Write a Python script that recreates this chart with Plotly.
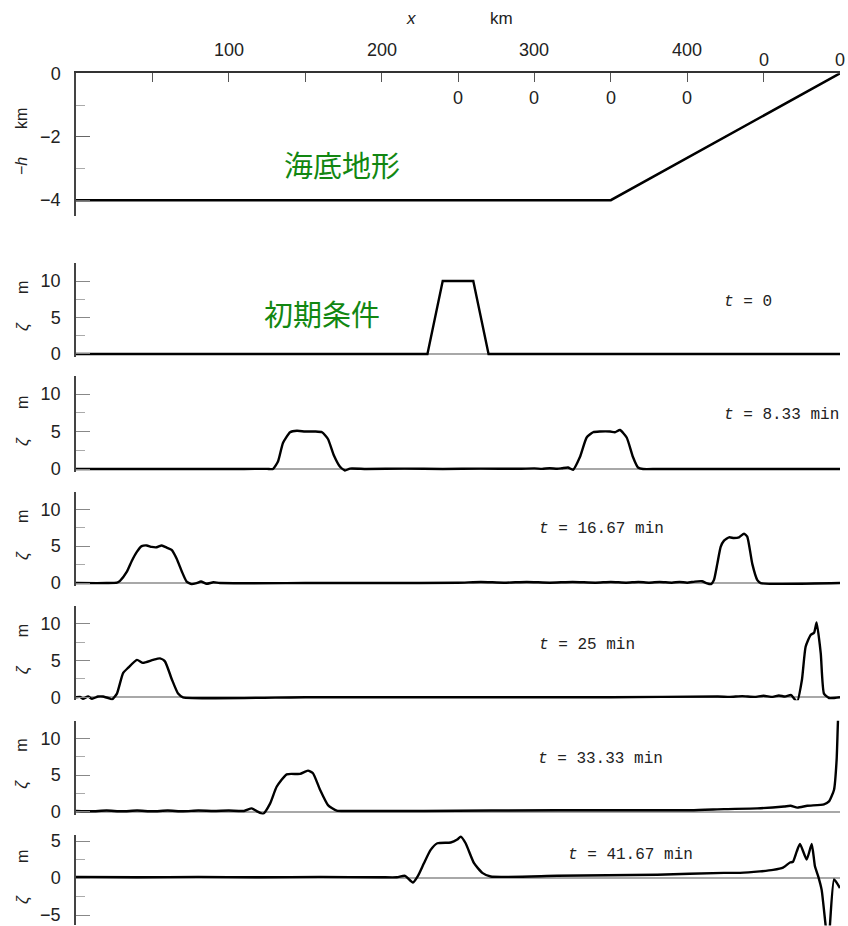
import plotly.graph_objects as go

# ---------------- data ----------------
# sea-floor profile: depth -h (km) along x (km)
bathy_x = [0, 350, 500]
bathy_h = [-4, -4, 0]

# surface elevation zeta (m) along x (km) at each time
t_labels = ["<i>t</i> = 0", "<i>t</i> = 8.33 min", "<i>t</i> = 16.67 min",
            "<i>t</i> = 25 min", "<i>t</i> = 33.33 min", "<i>t</i> = 41.67 min"]

x_t0 = [0, 230, 240, 260, 270, 500]
z_t0 = [0, 0, 10, 10, 0, 0]

x_t1 = [0, 60, 110, 125, 128.9, 132.2, 135.5, 140.1, 144.6, 149.9, 156.4, 161.0,
        164.9, 168.8, 172.8, 176.0, 179.3, 190, 215, 240, 265, 290, 300, 305,
        310, 315, 318, 322.0, 325.3, 329.8, 334.2, 338.4, 342.9, 349.5, 352.7,
        356.0, 360.4, 364.5, 367.8, 371.1, 380, 420, 500]
z_t1 = [0, 0, 0, 0.02, 0, 1.0, 3.5, 4.9, 5.1, 5.0, 5.0, 4.9,
        4.0, 1.8, 0.3, -0.2, 0.05, 0, 0.05, 0, 0.05, 0.03, 0.08, 0.02,
        0.1, 0.03, 0.1, 0.2, -0.1, 1.6, 4.2, 4.9, 5.0, 5.0, 4.9,
        5.2, 4.2, 1.6, 0.2, 0, 0, 0, 0]

x_t2 = [0, 20, 26.8, 28.8, 33.2, 36.5, 39.7, 43.0, 46.3, 49.5, 52.8, 56.1, 59.4,
        62.6, 65.9, 69.2, 72.4, 75.7, 79.0, 81.8, 85.5, 89.9, 94.2, 150, 200,
        250, 265, 280, 295, 310, 325, 340, 350, 360, 368, 375, 382, 390, 395,
        400, 405, 409.7, 412.5, 415.6, 417.5, 419.7, 421.9, 424.1, 427.4,
        430.6, 433.9, 437.2, 439.3, 442.6, 445.9, 448.1, 500]
z_t2 = [0, 0, 0.05, 0.3, 1.5, 3.0, 4.2, 5.0, 5.1, 4.9, 4.85, 5.1, 4.8,
        4.5, 3.3, 1.6, 0.2, -0.15, 0, 0.2, -0.1, 0.1, 0, 0, 0,
        0.05, 0.15, 0.05, 0.15, 0.05, 0.15, 0.05, 0.15, 0.05, 0.15, 0.05, 0.15,
        0.05, 0.15, 0.05, 0.2, 0.25, 0, -0.15, 0.4, 2.6, 4.9, 5.75, 6.2,
        6.1, 6.2, 6.7, 6.3, 2.6, 0.4, 0, 0]

x_t3 = [0, 2.6, 4.6, 7.9, 10.5, 14.4, 17.7, 22.3, 23.6, 26.8, 30.8, 34.0, 39.9,
        43.8, 50.4, 55.0, 58.2, 62.8, 66.8, 70.0, 150, 250, 350, 420, 428, 436,
        444, 450, 456, 460, 464, 468, 471.9, 475.1, 477.5, 480.8, 483.0,
        484.7, 487.4, 489.5, 492.8, 500]
z_t3 = [0, 0.05, -0.2, 0.1, -0.2, 0.1, 0.1, -0.2, -0.3, 0.5, 3.3, 4.0, 5.1,
        4.7, 5.1, 5.3, 4.9, 2.4, 0.5, 0, 0, 0, 0, 0.1, 0.05, 0.15,
        0.05, 0.2, 0.05, 0.25, 0.1, 0.3, -0.6, 2.4, 6.9, 8.5, 8.8,
        10.2, 6.0, 0.5, -0.1, 0]

x_t4 = [0, 10, 20, 30, 40, 50, 60, 70, 80, 90, 100, 110, 115, 118, 122.4, 127,
        131.3, 137.9, 146.6, 151.8, 155.1, 159.7, 164.9, 170.6, 177.2, 227.7,
        315, 402.3, 424.1, 445.9, 463.4, 467.7, 472.1, 478.6, 489.5, 492.8,
        496.1, 497.8, 498.7, 499.2]
z_t4 = [0.1, 0.05, 0.15, 0.05, 0.15, 0.05, 0.15, 0.05, 0.15, 0.1, 0.15, 0.1, 0.45,
        0.1, -0.3, 1.1, 3.4, 5.1, 5.15, 5.6, 5.25, 3.0, 0.9, 0.15, 0.1, 0.1,
        0.2, 0.2, 0.35, 0.45, 0.7, 0.8, 0.55, 0.8, 1.0, 1.4,
        3.0, 7.1, 12.5, 14.0]

x_t5 = [0, 40, 80, 120, 160, 200, 210, 215.3, 220.5, 223.8, 227.7, 232.1, 236.5,
        245.2, 249.5, 251.8, 255.0, 260.5, 265.9, 271.4, 315, 380.4, 424.1,
        434.6, 447.6, 456.2, 462.7, 467.3, 469.2, 471.7, 473.8, 478.2, 481.5,
        483.6, 485.8, 488.0, 492.3, 496.1, 500]
z_t5 = [0.15, 0.1, 0.15, 0.1, 0.15, 0.1, 0.1, 0.3, -0.6, 0.3, 2.0, 3.8, 4.7,
        4.8, 5.2, 5.6, 4.7, 2.0, 0.7, 0.2, 0.3, 0.45, 0.7,
        0.7, 0.9, 1.1, 1.4, 2.1, 2.2, 3.6, 4.6, 2.5, 4.6,
        1.6, 0.2, -1.6, -9.0, -0.2, -1.35]

zeta_x = [x_t0, x_t1, x_t2, x_t3, x_t4, x_t5]
zeta_z = [z_t0, z_t1, z_t2, z_t3, z_t4, z_t5]

# axis tick values / labels
x_ticks = list(range(0, 501, 50))
top_labels_x = [100, 200, 300, 400]
top_labels_text = ["100", "200", "300", "400"]
top_low_x = [450, 500]
inner_zero_x = [250, 300, 350, 400]
depth_ticks = [0, -2, -4]
depth_ticktext = ["0", "\u22122", "\u22124"]
depth_minor = [-1, -3]
zeta_ticks = [0, 5, 10]
zeta_minor = [2.5, 7.5]
zeta_ticks_last = [-5, 0, 5]
zeta_ticktext_last = ["\u22125", "0", "5"]
zeta_minor_last = [-2.5, 2.5]

# ---------------- layout geometry (pixels) ----------------
W, H = 848, 926
X0, X1 = 76, 840


def px(x):
    return x / W


def py(y):
    return 1 - y / H


# (top px, bottom px, y range) for each zeta panel
zeta_panels = [
    (262.8, 356.9, [-0.4, 12.5]),
    (376.0, 472.0, [-0.4, 12.4]),
    (491.6, 586.0, [-0.4, 12.4]),
    (606.4, 700.2, [-0.4, 12.4]),
    (720.8, 814.6, [-0.4, 12.4]),
    (835.1, 925.4, [-6.4, 5.8]),
]
t_label_pos = [(722, 302), (722, 415), (537, 529), (537, 645), (536, 759), (566, 855)]

tick_font = dict(family="Liberation Sans Narrow, Liberation Sans, Arial", size=18, color="#222")
axis_line = "#444"

fig = go.Figure()

# sea-floor panel
fig.add_trace(go.Scatter(x=bathy_x, y=bathy_h, mode="lines",
                         line=dict(color="black", width=2.5),
                         xaxis="x", yaxis="y", showlegend=False, hoverinfo="skip"))

layout = dict(
    width=W, height=H,
    margin=dict(l=0, r=0, t=0, b=0, autoexpand=False),
    paper_bgcolor="white", plot_bgcolor="white",
    showlegend=False,
    xaxis=dict(domain=[px(X0), px(X1)], range=[0, 500], anchor="y", side="top",
               showline=True, linecolor="#333", linewidth=1.5,
               ticks="inside", tickvals=x_ticks, ticklen=9, tickcolor="#555",
               tickwidth=1.2, showticklabels=False, showgrid=False, zeroline=False),
    yaxis=dict(domain=[py(216), py(73.3)], range=[-4.5, 0], anchor="x",
               showline=True, linecolor=axis_line, linewidth=1.5,
               ticks="inside", tickvals=depth_ticks, ticktext=depth_ticktext,
               ticklen=14, tickcolor="#666", tickwidth=1.3, tickfont=tick_font,
               ticklabelstandoff=10,
               minor=dict(ticks="inside", tickvals=depth_minor, ticklen=9,
                          tickcolor="#aaa", tickwidth=1.3),
               showgrid=False, zeroline=False),
)

for i, (top, bot, yr) in enumerate(zeta_panels):
    n = i + 2
    # the initial trapezoid keeps straight segments, the computed profiles are smooth
    line = dict(color="black", width=2.4)
    if i > 0:
        line.update(shape="spline", smoothing=0.5)
    fig.add_trace(go.Scatter(x=zeta_x[i], y=zeta_z[i], mode="lines", line=line,
                             xaxis=f"x{n}", yaxis=f"y{n}", showlegend=False,
                             hoverinfo="skip"))
    last = i == len(zeta_panels) - 1
    layout[f"xaxis{n}"] = dict(domain=[px(X0), px(X1)], range=[0, 500],
                               anchor=f"y{n}", visible=False)
    layout[f"yaxis{n}"] = dict(
        domain=[py(bot), py(top)], range=yr, anchor=f"x{n}",
        showline=True, linecolor=axis_line, linewidth=1.5,
        ticks="inside",
        tickvals=zeta_ticks_last if last else zeta_ticks,
        ticktext=zeta_ticktext_last if last else [str(v) for v in zeta_ticks],
        ticklen=14, tickcolor="#888", tickwidth=1.3, tickfont=tick_font,
        ticklabelstandoff=10,
        minor=dict(ticks="inside", tickvals=zeta_minor_last if last else zeta_minor,
                   ticklen=9, tickcolor="#aaa", tickwidth=1.3),
        showgrid=False,
        zeroline=True, zerolinecolor="#a8a8a8", zerolinewidth=1.5,
    )

fig.update_layout(**layout)

ann = []


def text(x, y, s, size=18, family=tick_font["family"], color="#222",
         angle=0, xanchor="center"):
    ann.append(dict(x=px(x), y=py(y), xref="paper", yref="paper", text=s,
                    showarrow=False, textangle=angle, xanchor=xanchor,
                    yanchor="middle", font=dict(size=size, family=family, color=color)))


# axis title on top
text(411, 18, "<i>x</i>", size=17)
text(501, 18, "km", size=17)

# top tick labels
for v, s in zip(top_labels_x, top_labels_text):
    text(X0 + (X1 - X0) * v / 500, 50, s)
for v in top_low_x:
    text(X0 + (X1 - X0) * v / 500, 60, "0")
for v in inner_zero_x:
    text(X0 + (X1 - X0) * v / 500, 98, "0")

# y titles
text(21, 119, "km", size=16, angle=-90)
text(21, 166, "\u2212<i>h</i>", size=16, angle=-90)
zero_px = [354, 469, 583, 697.3, 811.7, 878]
for i, z0 in enumerate(zero_px):
    if i < 5:
        text(22, z0 - 66, "m", size=16, angle=-90)
        text(22, z0 - 27, "<i>\u03b6</i>", size=17, angle=-90)
    else:
        text(22, 857, "m", size=16, angle=-90)
        text(22, 900, "<i>\u03b6</i>", size=17, angle=-90)

# panel captions
green = "rgb(18,135,18)"
text(342, 164, "海底地形", size=29, family="Noto Sans CJK JP", color=green)
text(322, 313, "初期条件", size=29, family="Noto Sans CJK JP", color=green)

for (lx, ly), s in zip(t_label_pos, t_labels):
    text(lx, ly, s, size=16, family="Liberation Mono, DejaVu Sans Mono",
         color="#222", xanchor="left")

fig.update_layout(annotations=ann)
fig.write_html("out.html")
